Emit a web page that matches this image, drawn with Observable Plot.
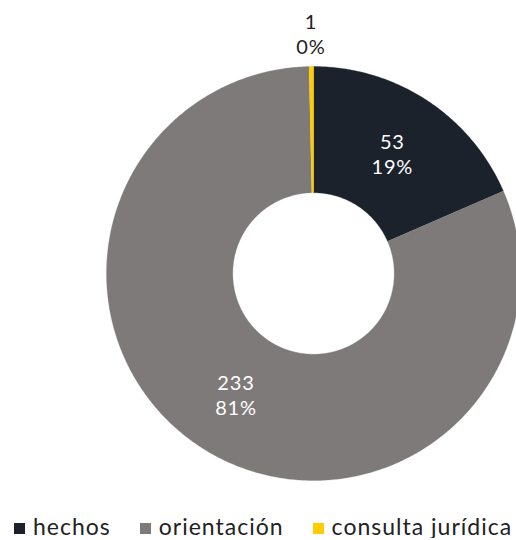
<!DOCTYPE html>
<html>
<head>
<meta charset="utf-8">
<script src="https://cdn.jsdelivr.net/npm/d3@7"></script>
<script src="https://cdn.jsdelivr.net/npm/@observablehq/plot@0.6"></script>
<style>
  body { margin: 0; background: #fff; font-family: Lato, "Open Sans", sans-serif; overflow: hidden; }
  #chart svg { display: block; }
  #legend { display: flex; flex-wrap: nowrap; white-space: nowrap; margin-top: 23px; padding-left: 14px; font-size: 23px; color: #222; line-height: 1; letter-spacing: 1px; width: 600px; }
  .item { display: flex; flex: none; align-items: center; margin-right: 29px; white-space: nowrap; }
  .sw { width: 11px; height: 11px; margin-right: 8px; margin-top: 3px; flex: none; }
</style>
</head>
<body>
<div id="chart"></div>
<div id="legend"></div>
<script>
const categories = ["hechos", "orientación", "consulta jurídica"];
const values = [53, 233, 1];
const percentLabels = ["19%", "81%", "0%"];
const colors = ["#1b222c", "#7e7a7a", "#ffcc00"];

const W = 516, H = 492;
const R = 207, cx = 313, cy = 273; // layout
const inner = 0.39;

const pie = d3.pie().sort(null).value(d => d.value);
const data = categories.map((c, i) => ({cat: c, value: values[i], pct: percentLabels[i]}));
const arcs = pie(data);

// polygon points for each slice (unit radius coordinates)
const pts = [];
arcs.forEach(a => {
  const n = Math.max(4, Math.ceil((a.endAngle - a.startAngle) / 0.01));
  for (let k = 0; k <= n; k++) {
    const t = a.startAngle + (a.endAngle - a.startAngle) * k / n;
    pts.push({cat: a.data.cat, x: Math.sin(t), y: Math.cos(t)});
  }
  for (let k = n; k >= 0; k--) {
    const t = a.startAngle + (a.endAngle - a.startAngle) * k / n;
    pts.push({cat: a.data.cat, x: inner * Math.sin(t), y: inner * Math.cos(t)});
  }
});

const labels = arcs.map(a => {
  const m = (a.startAngle + a.endAngle) / 2;
  const small = (a.endAngle - a.startAngle) < 0.2;
  const r = small ? 1.16 : (1 + inner) / 2;
  return {x: r * Math.sin(m), y: r * Math.cos(m), text: a.data.value + "\n" + a.data.pct, small};
});

const chart = Plot.plot({
  width: W, height: H,
  margin: 0,
  x: {domain: [-cx / R, (W - cx) / R], range: [0, W], axis: null},
  y: {domain: [(cy - H) / R, cy / R], range: [H, 0], axis: null},
  color: {domain: categories, range: colors},
  style: {fontFamily: "Lato, 'Open Sans', sans-serif"},
  marks: [
    Plot.line(pts, {x: "x", y: "y", z: "cat", fill: "cat", stroke: "cat", strokeWidth: 0.3, curve: "linear"}),
    Plot.text(labels, {x: "x", y: "y", text: "text", fill: d => d.small ? "#222" : "#fff", fontSize: 20, lineHeight: 1.25})
  ]
});
document.getElementById("chart").appendChild(chart);
chart.querySelectorAll("text").forEach(t => t.style.letterSpacing = "0.8px");

const legend = document.getElementById("legend");
categories.forEach((c, i) => {
  const it = document.createElement("div");
  it.className = "item";
  const sw = document.createElement("span");
  sw.className = "sw";
  sw.style.background = colors[i];
  const tx = document.createElement("span");
  tx.textContent = c;
  it.appendChild(sw); it.appendChild(tx);
  legend.appendChild(it);
});
</script>
</body>
</html>
